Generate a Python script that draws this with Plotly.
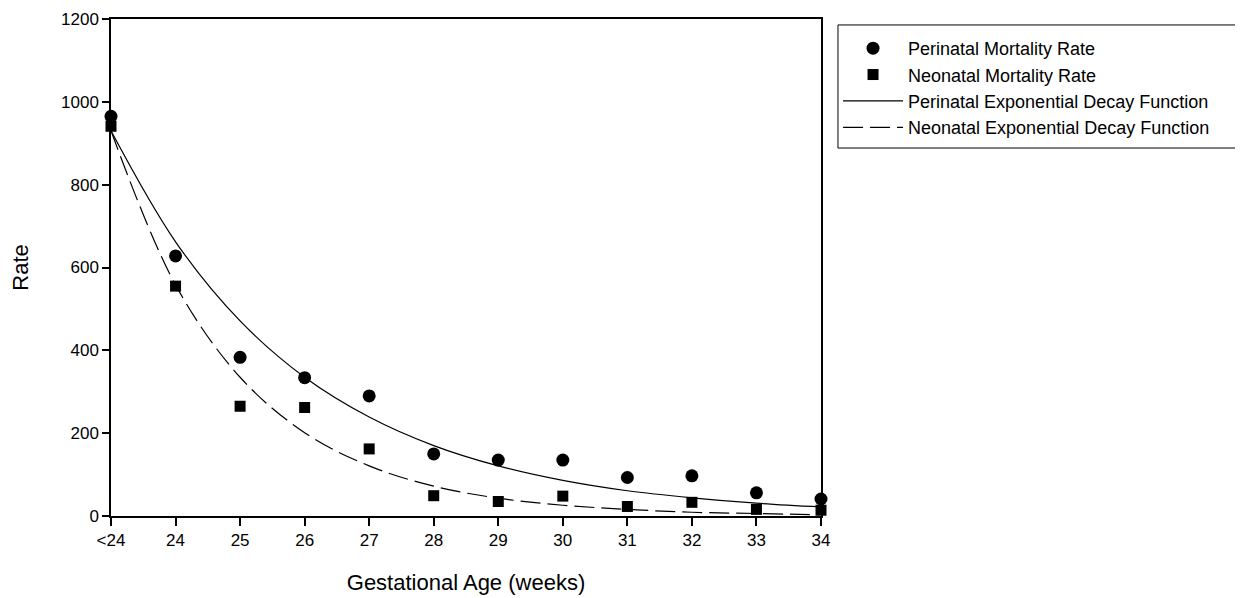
import plotly.graph_objects as go

# Categories (gestational age, weeks)
categories = ["<24", "24", "25", "26", "27", "28", "29", "30", "31", "32", "33", "34"]
positions = list(range(len(categories)))

perinatal_rate = [965, 628, 383, 334, 290, 150, 135, 135, 93, 97, 56, 41]
neonatal_rate = [941, 555, 265, 262, 162, 49, 35, 48, 23, 33, 16, 14]

# Fitted exponential decay curves (values read at each category)
perinatal_fit = [930, 662, 471, 335, 239, 170, 121, 86, 61, 44, 31, 22]
neonatal_fit = [930, 558, 335, 201, 121, 72, 43, 26, 16, 9, 6, 3]

y_ticks = [0, 200, 400, 600, 800, 1000, 1200]

FONT = "Liberation Sans, Arial, sans-serif"

fig = go.Figure()
fig.add_trace(go.Scatter(
    x=positions, y=perinatal_rate, mode="markers", name="Perinatal Mortality Rate",
    marker=dict(symbol="circle", size=13, color="black"), cliponaxis=False))
fig.add_trace(go.Scatter(
    x=positions, y=neonatal_rate, mode="markers", name="Neonatal Mortality Rate",
    marker=dict(symbol="square", size=11, color="black"), cliponaxis=False))
fig.add_trace(go.Scatter(
    x=positions, y=perinatal_fit, mode="lines", name="Perinatal Exponential Decay Function",
    line=dict(color="black", width=1.2, shape="spline", smoothing=1.0)))
fig.add_trace(go.Scatter(
    x=positions, y=neonatal_fit, mode="lines", name="Neonatal Exponential Decay Function",
    line=dict(color="black", width=1.2, shape="spline", smoothing=1.0, dash="20px,7px")))

# legend frame (open on the right, running off the page like the reference)
frame_left, frame_right, frame_bottom, frame_top = 1.0239, 1.62, 0.7404, 0.988

fig.update_layout(
    width=1243, height=598,
    margin=dict(l=103, r=430, t=11, b=90, autoexpand=False),
    paper_bgcolor="white", plot_bgcolor="white",
    font=dict(family=FONT, size=17, color="black"),
    showlegend=True,
    legend=dict(
        x=1.024, y=0.978, xanchor="left", yanchor="top",
        borderwidth=0, bgcolor="rgba(0,0,0,0)",
        font=dict(family=FONT, size=18, color="black"),
        itemwidth=60, tracegroupgap=0,
    ),
    shapes=[dict(
        type="path", xref="paper", yref="paper",
        path=(f"M {frame_right},{frame_top} L {frame_left},{frame_top} "
              f"L {frame_left},{frame_bottom} L {frame_right},{frame_bottom}"),
        line=dict(color="black", width=1), layer="below",
    )],
)

fig.update_xaxes(
    range=[0, 11], tickmode="array", tickvals=positions, ticktext=categories,
    showline=True, linecolor="black", linewidth=1.5, mirror=True,
    ticks="outside", ticklen=8, tickwidth=1.5, tickcolor="black",
    showgrid=False, zeroline=False, automargin=False,
    title=dict(text="Gestational Age (weeks)", font=dict(family=FONT, size=22), standoff=25),
    tickfont=dict(family=FONT, size=17),
)
fig.update_yaxes(
    range=[0, 1200], tickmode="array", tickvals=y_ticks,
    showline=True, linecolor="black", linewidth=1.5, mirror=True,
    ticks="outside", ticklen=7, tickwidth=1.5, tickcolor="black",
    showgrid=False, zeroline=False, automargin=False,
    title=dict(text="Rate", font=dict(family=FONT, size=22), standoff=30),
    tickfont=dict(family=FONT, size=17),
)

fig.write_html("out.html")
